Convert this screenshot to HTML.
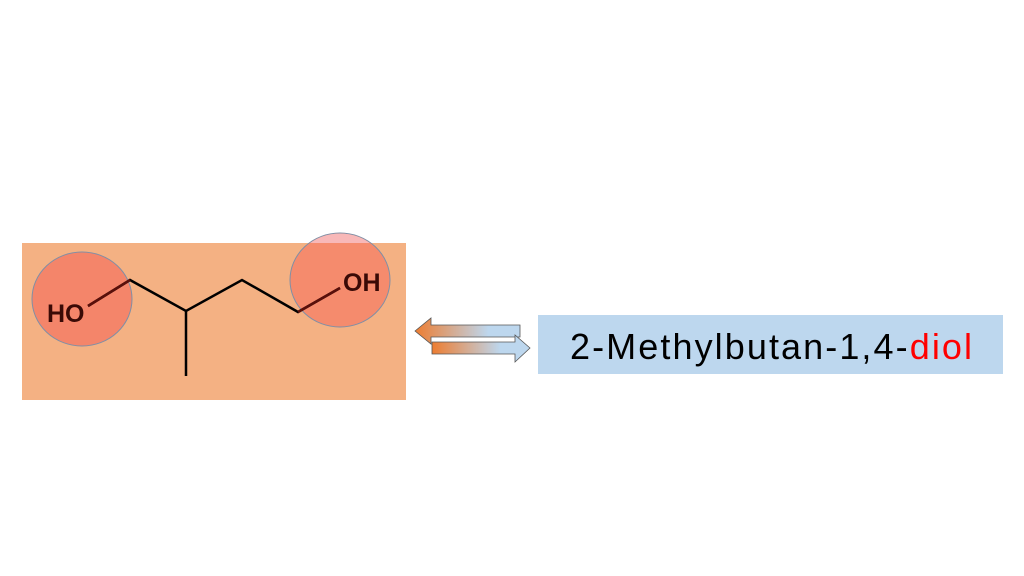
<!DOCTYPE html>
<html><head><style>
body{margin:0;width:1024px;height:576px;background:#fff;overflow:hidden;font-family:"Liberation Sans",sans-serif}
</style></head><body>
<svg width="1024" height="576" style="position:absolute;left:0;top:0">
<defs>
<linearGradient id="g" x1="0" x2="1" y1="0" y2="0">
<stop offset="0" stop-color="#ed7d31"/><stop offset="0.7" stop-color="#bdd7ee"/><stop offset="1" stop-color="#bdd7ee"/>
</linearGradient>
<clipPath id="top"><rect x="0" y="0" width="1024" height="243"/></clipPath>
</defs>
<rect x="22" y="243" width="384" height="157" fill="#f4b183"/>
<ellipse cx="82" cy="299" rx="50" ry="47" fill="#f4856a" stroke="#7f8fa6" stroke-width="1"/>
<ellipse cx="340" cy="280" rx="50" ry="47" fill="#f4856a" fill-opacity="0.85" stroke="#7f8fa6" stroke-width="1"/>
<ellipse cx="340" cy="280" rx="49.5" ry="46.5" fill="#f8b8b8" clip-path="url(#top)"/>
<polyline points="88,306 130,280 186,311 242,280 298,312 340,288" fill="none" stroke="#000" stroke-width="2.5"/>
<line x1="186" y1="311" x2="186" y2="376" stroke="#000" stroke-width="2.5"/>
<polyline points="88,306 130,280" fill="none" stroke="#5a0f0a" stroke-width="2.5"/>
<polyline points="298,312 340,288" fill="none" stroke="#5a0f0a" stroke-width="2.5"/>
<text x="47" y="322" font-size="25" font-weight="bold" fill="#3a0a06">HO</text>
<text x="343" y="291" font-size="25" font-weight="bold" fill="#3a0a06">OH</text>
<path d="M415,331 L431,318 L431,325 L520,325 L520,337 L431,337 L431,344 Z" fill="url(#g)" stroke="#555" stroke-width="0.8"/>
<path d="M530,348 L515,335 L515,342 L432,342 L432,354 L515,354 L515,362 Z" fill="url(#g)" stroke="#555" stroke-width="0.8"/>
<rect x="538" y="315" width="465" height="59" fill="#bdd7ee"/>
<text x="570" y="359" font-size="36" fill="#000" textLength="402" lengthAdjust="spacing">2-Methylbutan-1,4-<tspan fill="#ff0000">diol</tspan></text>
</svg>
</body></html>
